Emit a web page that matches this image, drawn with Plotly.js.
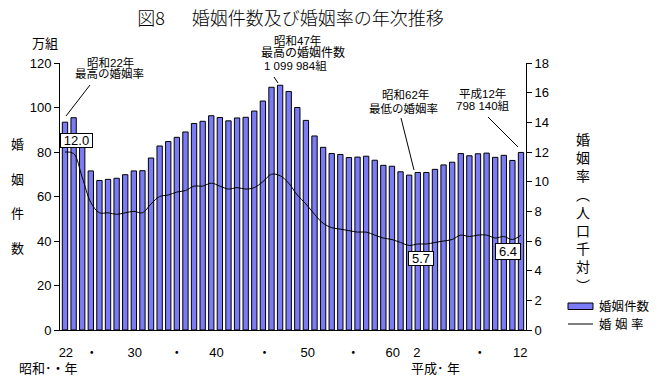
<!DOCTYPE html>
<html>
<head>
<meta charset="utf-8">
<script src="https://cdn.plot.ly/plotly-3.0.1.min.js"></script>
<style>html,body{margin:0;padding:0;background:#fff;}#chart{width:664px;height:385px;}</style>
</head>
<body>
<div id="chart"></div>
<script>
// ---- data ----
const years = [1947,1948,1949,1950,1951,1952,1953,1954,1955,1956,1957,1958,1959,1960,1961,1962,1963,1964,1965,1966,1967,1968,1969,1970,1971,1972,1973,1974,1975,1976,1977,1978,1979,1980,1981,1982,1983,1984,1985,1986,1987,1988,1989,1990,1991,1992,1993,1994,1995,1996,1997,1998,1999,2000];
// 婚姻件数（万組）
const marriages = [93.4,95.4,84.2,71.5,67.2,67.7,68.2,69.8,71.5,71.6,77.3,82.7,84.7,86.6,89.0,92.8,93.8,96.3,95.5,94.0,95.3,95.6,98.4,102.9,109.1,110.0,107.2,100.0,94.2,87.2,82.1,79.3,78.9,77.5,77.7,78.1,76.3,74.0,73.6,71.1,69.6,70.8,70.8,72.2,74.2,75.4,79.3,78.3,79.2,79.5,77.6,78.5,76.2,79.8];
// 婚姻率（人口千対）
const rates = [12.0,11.9,10.3,8.6,7.9,7.9,7.8,7.9,8.0,7.9,8.5,9.0,9.1,9.3,9.4,9.7,9.7,9.9,9.7,9.5,9.6,9.5,9.6,10.0,10.5,10.4,9.9,9.1,8.5,7.8,7.2,6.9,6.8,6.7,6.6,6.6,6.4,6.2,6.1,5.9,5.7,5.8,5.8,5.9,6.0,6.1,6.4,6.3,6.4,6.4,6.2,6.3,6.1,6.4];
const tickLabels = ['22','・','30','・','40','・','50','・','60','2','・','12'];
const tickPos = [1947.1,1950.1,1955.1,1960.0,1964.6,1970.2,1975.2,1980.5,1985.1,1987.9,1995.2,1999.9];
const leftTicks = [0,20,40,60,80,100,120];
const rightTicks = [0,2,4,6,8,10,12,14,16,18];

// ---- layout helpers (pixel -> paper) ----
const L = 60, T = 63, W = 466, H = 267;
const px = x => (x - L) / W;
const py = y => (T + H - y) / H;
const FONT = 'Liberation Sans, Noto Sans CJK JP, sans-serif';
const BAR = '#7b7bf6';

function txt(t, x, y, size, anchor) {
  return {text: t, xref: 'paper', yref: 'paper', x: px(x), y: py(y),
    xanchor: anchor || 'center', yanchor: 'middle', showarrow: false,
    font: {family: FONT, size: size || 12, color: '#000'}};
}
function box(t, x, y, w, h) {
  return {text: t, xref: 'paper', yref: 'paper', x: px(x), y: py(y),
    xanchor: 'center', yanchor: 'middle', showarrow: false,
    bgcolor: '#fff', bordercolor: '#000', borderwidth: 1, borderpad: 0,
    width: w, height: h, font: {family: FONT, size: 13, color: '#000'}};
}
function seg(x0, y0, x1, y1) {
  return {type: 'line', xref: 'paper', yref: 'paper', x0: px(x0), y0: py(y0), x1: px(x1), y1: py(y1),
    line: {color: '#000', width: 1}};
}

const traces = [
  {type: 'bar', x: years, y: marriages, name: '婚姻件数', yaxis: 'y',
   marker: {color: BAR, line: {color: '#000', width: 1}}, hoverinfo: 'x+y'},
  {type: 'scatter', mode: 'lines', x: years, y: rates, name: '婚姻率', yaxis: 'y2',
   line: {color: '#000', width: 1, shape: 'spline', smoothing: 1}}
];

const annotations = [
  txt('万組', 45, 43, 13),
  txt('婚', 17.5, 144, 13), txt('姻', 17.5, 179, 13), txt('件', 17.5, 213, 13), txt('数', 17.5, 248, 13),
  txt('婚<br>姻<br>率<br>︵<br>人<br>口<br>千<br>対<br>︶', 583, 213, 14),
  txt('昭和22年', 110, 62, 11.5), txt('最高の婚姻率', 109, 73.5, 11.5),
  txt('昭和47年', 297, 40, 11.5), txt('最高の婚姻件数', 303, 53, 12), txt('1 099 984組', 295, 65.5, 11.5),
  txt('昭和62年', 405, 95, 11.5), txt('最低の婚姻率', 403, 108, 11.5),
  txt('平成12年', 482, 94, 11.5), txt('798 140組', 483, 106.5, 11.5),
  box('12.0', 76.5, 140.5, 31, 13),
  box('5.7', 421, 258.5, 24, 13),
  box('6.4', 508, 251.5, 24, 15),
  txt('昭和･・年', 48.5, 368, 13),
  txt('平成･ 年', 435, 368, 13),
  txt('婚姻件数', 597, 306, 12.5, 'left'),
  txt('婚 姻 率', 597, 324, 12.5, 'left')
];

const shapes = [
  seg(90, 85, 66, 116),
  seg(274, 77, 278, 83),
  seg(401, 118, 414, 170),
  seg(488, 117, 518, 147),
  {type: 'rect', xref: 'paper', yref: 'paper', x0: px(568), x1: px(593), y0: py(309.5), y1: py(303),
   fillcolor: BAR, line: {color: '#000', width: 1}},
  seg(568, 324, 593, 324)
];

const layout = {
  width: 664, height: 385,
  margin: {l: L, r: 664 - L - W, t: T, b: 385 - T - H, pad: 0},
  paper_bgcolor: '#fff', plot_bgcolor: '#fff',
  showlegend: false, bargap: 0.38,
  font: {family: FONT, size: 13, color: '#000'},
  title: {text: '図8\u3000\u2002婚姻件数及び婚姻率の年次推移',
          font: {family: 'Noto Sans CJK JP, sans-serif', size: 18, color: '#000', weight: 300},
          x: 290.5 / 664, xanchor: 'center', xref: 'container', y: 1 - 19 / 385, yanchor: 'middle', yref: 'container'},
  xaxis: {range: [1946.419, 2000.581], showgrid: false, zeroline: false, showline: true, linecolor: '#000', linewidth: 1,
          tickmode: 'array', tickvals: tickPos, ticktext: tickLabels, ticks: 'outside', ticklen: 10,
          tickcolor: 'rgba(0,0,0,0)', tickfont: {family: FONT, size: 13}, fixedrange: true},
  yaxis: {range: [0, 120], tickmode: 'array', tickvals: leftTicks, showgrid: false, zeroline: false,
          showline: true, linecolor: '#000', linewidth: 1, ticks: 'outside', ticklen: 5, tickcolor: '#000',
          tickfont: {family: FONT, size: 13}, fixedrange: true},
  yaxis2: {range: [0, 18], overlaying: 'y', side: 'right', tickmode: 'array', tickvals: rightTicks,
           showgrid: false, zeroline: false, showline: true, linecolor: '#000', linewidth: 1,
           ticks: 'outside', ticklen: 5, tickcolor: '#000', tickfont: {family: FONT, size: 13}, fixedrange: true},
  annotations: annotations,
  shapes: shapes
};

Plotly.newPlot('chart', traces, layout, {displayModeBar: false, staticPlot: true});
</script>
</body>
</html>
